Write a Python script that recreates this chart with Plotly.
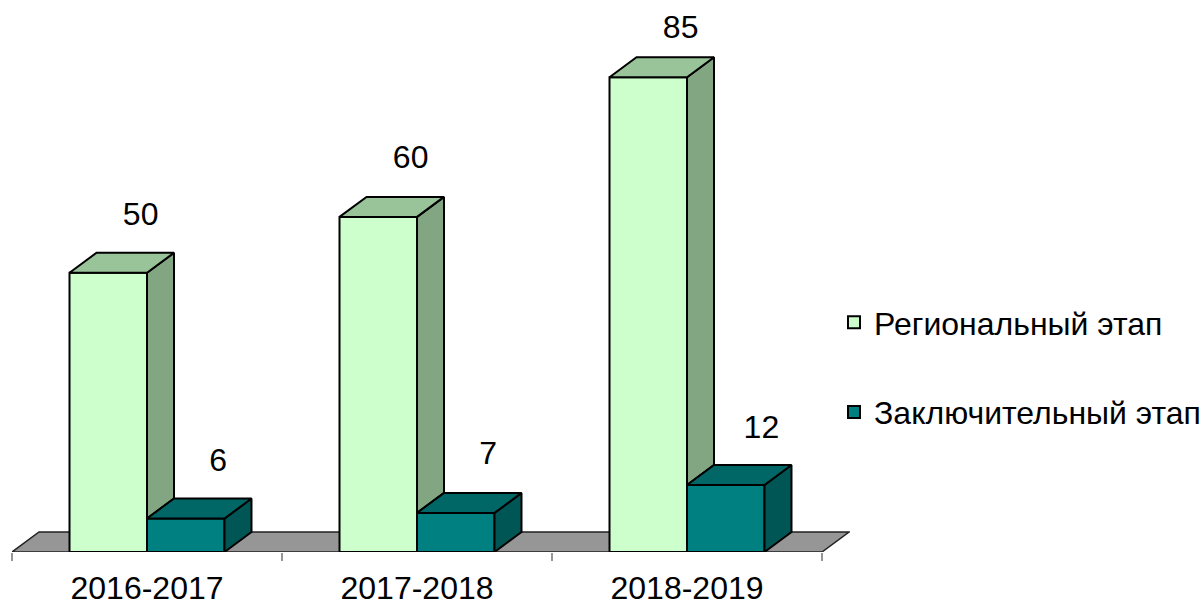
import plotly.graph_objects as go

categories = ["2016-2017", "2017-2018", "2018-2019"]
series_names = ["Региональный этап", "Заключительный этап"]
regional = [50, 60, 85]
final = [6, 7, 12]
label_lift_regional = [10.0, 10.1, 8.4]
label_lift_final = [10.0, 10.2, 9.8]
label_shift_final = [0, 0, 0.012]

FONT = "Liberation Sans, Arial, sans-serif"
GREEN, GREEN_TOP, GREEN_SIDE = "#CCFFCC", "#99C499", "#82A582"
TEAL, TEAL_TOP, TEAL_SIDE = "#008080", "#006666", "#005555"
FLOOR = "#969696"

BAR_W = 0.287
DX, DY = 0.1, 3.58
EDGE = dict(color="#000000", width=2)
centers = [i + 0.5 for i in range(len(categories))]

fig = go.Figure()
fig.add_bar(x=centers, y=regional, name=series_names[0], width=BAR_W, offset=-BAR_W,
            marker=dict(color=GREEN, line=EDGE), legendgroup="a")
fig.add_bar(x=centers, y=final, name=series_names[1], width=BAR_W, offset=0,
            marker=dict(color=TEAL, line=EDGE), legendgroup="b")


def poly(xs, ys, color):
    fig.add_scatter(x=xs + xs[:1], y=ys + ys[:1], mode="lines", fill="toself",
                    fillcolor=color, line=EDGE, showlegend=False, hoverinfo="skip")


for c, a, b in zip(centers, regional, final):
    l, m, r = c - BAR_W, c, c + BAR_W
    poly([m, m + DX, m + DX, m], [a, a + DY, b + DY, b], GREEN_SIDE)
    poly([l, l + DX, m + DX, m], [a, a + DY, a + DY, a], GREEN_TOP)
    poly([r, r + DX, r + DX, r], [b, b + DY, DY, 0], TEAL_SIDE)
    poly([m, m + DX, r + DX, r], [b, b + DY, b + DY, b], TEAL_TOP)

fig.add_scatter(
    x=[c - BAR_W / 2 + 0.12 for c in centers]
    + [c + BAR_W / 2 + 0.12 + s for c, s in zip(centers, label_shift_final)],
    y=[v + o for v, o in zip(regional, label_lift_regional)] + [v + o for v, o in zip(final, label_lift_final)],
    text=[str(v) for v in regional + final],
    mode="text", textposition="middle center",
    textfont=dict(family=FONT, size=32, color="#000000"),
    showlegend=False, hoverinfo="skip", cliponaxis=False,
)

fig.update_layout(
    width=1203, height=601,
    margin=dict(l=12, r=353, t=0, b=49, autoexpand=False),
    paper_bgcolor="white", plot_bgcolor="white",
    barmode="overlay", showlegend=True,
    font=dict(family=FONT, size=32, color="#000000"),
    legend=dict(
        xref="container", yref="container", x=834 / 1203, y=1 - 367.5 / 601,
        xanchor="left", yanchor="middle", traceorder="grouped", tracegroupgap=45,
        font=dict(family=FONT, size=32, color="#000000"),
        bgcolor="rgba(0,0,0,0)", borderwidth=0,
    ),
    xaxis=dict(
        range=[0, 838 / 270], showgrid=False, zeroline=False, showline=False,
        tickmode="array", tickvals=centers, ticktext=categories,
        ticks="outside", ticklen=8, tickcolor="rgba(0,0,0,0)",
        minor=dict(tickmode="array", tickvals=list(range(len(categories) + 1)),
                   ticks="outside", ticklen=8, tickwidth=1.5, tickcolor="#969696", showgrid=False),
        tickfont=dict(family=FONT, size=32, color="#000000"),
    ),
    yaxis=dict(range=[0, 552 / 5.585], visible=False),
    shapes=[dict(
        type="path", layer="below", xref="x", yref="y",
        path=f"M 0,0 L {DX},{DY} L {len(categories) + DX},{DY} L {len(categories)},0 Z",
        fillcolor=FLOOR, line=dict(color="#222222", width=1.5),
    )],
)

fig.write_html("out.html", config=dict(displayModeBar=False),
               post_script="document.body.style.margin='0';")
